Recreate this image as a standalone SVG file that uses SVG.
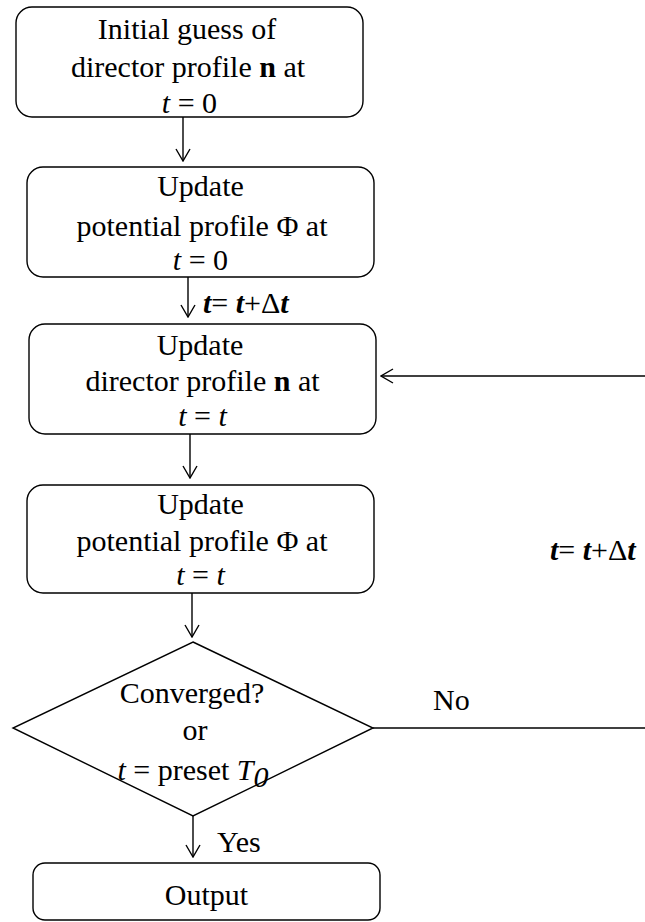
<svg xmlns="http://www.w3.org/2000/svg" width="645" height="922" viewBox="0 0 645 922">
<style>
.box{fill:#fff;stroke:#000;stroke-width:1.4}
.ln{fill:none;stroke:#000;stroke-width:1.4}
text{font-family:"Liberation Serif","Times New Roman",serif;font-size:30px;fill:#000}
.c{text-anchor:middle}
.i{font-style:italic}
.b{font-weight:bold}
.bi{font-weight:bold;font-style:italic}
</style>
<defs>
<marker id="ah" viewBox="0 0 14 16" refX="13" refY="8" markerWidth="14" markerHeight="16" markerUnits="userSpaceOnUse" orient="auto">
<path d="M1,1 L13,8 L1,15" fill="none" stroke="#000" stroke-width="1.4"/>
</marker>
</defs>
<rect width="645" height="922" fill="#fff"/>
<g id="connectors">
<line class="ln" x1="183" y1="117" x2="183" y2="161" marker-end="url(#ah)"/>
<line class="ln" x1="188" y1="277" x2="188" y2="317" marker-end="url(#ah)"/>
<line class="ln" x1="190" y1="434" x2="190" y2="478" marker-end="url(#ah)"/>
<line class="ln" x1="192" y1="593" x2="192" y2="637" marker-end="url(#ah)"/>
<line class="ln" x1="193" y1="816" x2="193" y2="857" marker-end="url(#ah)"/>
<line class="ln" x1="373" y1="728" x2="645" y2="728"/>
<line class="ln" x1="645" y1="376" x2="381" y2="376" marker-end="url(#ah)"/>
<text x="203" y="313"><tspan class="bi">t</tspan>= <tspan class="bi">t</tspan>+Δ<tspan class="bi">t</tspan></text>
<text x="550" y="560"><tspan class="bi">t</tspan>= <tspan class="bi">t</tspan>+Δ<tspan class="bi">t</tspan></text>
<text x="433" y="710">No</text>
<text x="217" y="852">Yes</text>
</g>
<g id="n1">
<rect class="box" x="16" y="7" width="347" height="110" rx="16"/>
<text class="c" x="187" y="39">Initial guess of</text>
<text class="c" x="188" y="77">director profile <tspan class="b">n</tspan> at</text>
<text class="c" x="189.5" y="113"><tspan class="i">t</tspan> = 0</text>
</g>
<g id="n2">
<rect class="box" x="27" y="167" width="347" height="110" rx="16"/>
<text class="c" x="200.5" y="196">Update</text>
<text class="c" x="202" y="236">potential profile Φ at</text>
<text class="c" x="200.5" y="270"><tspan class="i">t</tspan> = 0</text>
</g>
<g id="n3">
<rect class="box" x="29" y="324" width="347" height="110" rx="16"/>
<text class="c" x="200" y="355">Update</text>
<text class="c" x="202.5" y="391">director profile <tspan class="b">n</tspan> at</text>
<text class="c" x="202.5" y="426"><tspan class="i">t</tspan> = <tspan class="i">t</tspan></text>
</g>
<g id="n4">
<rect class="box" x="27" y="485" width="347" height="108" rx="16"/>
<text class="c" x="200.5" y="514">Update</text>
<text class="c" x="202" y="551">potential profile Φ at</text>
<text class="c" x="200.5" y="585"><tspan class="i">t</tspan> = <tspan class="i">t</tspan></text>
</g>
<g id="n5">
<polygon class="box" points="193,642 373,728 193,816 13,728"/>
<text class="c" x="192" y="703">Converged?</text>
<text class="c" x="195" y="740">or</text>
<text class="c" x="193" y="780"><tspan class="i">t</tspan> = preset <tspan class="i">T</tspan><tspan class="i" dy="7">0</tspan></text>
</g>
<g id="n6">
<rect class="box" x="33" y="863" width="347" height="57" rx="12"/>
<text class="c" x="206.5" y="905">Output</text>
</g>
</svg>
